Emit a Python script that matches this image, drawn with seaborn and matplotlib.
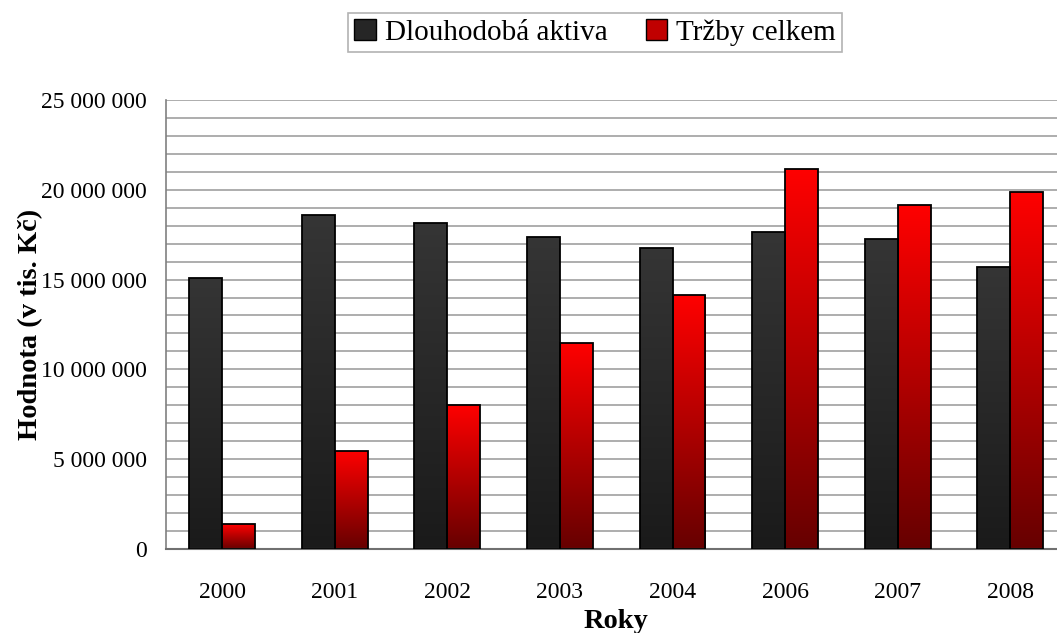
import numpy as np
import pandas as pd

import matplotlib
matplotlib.use('Agg')

from matplotlib import pyplot as plt
from matplotlib.colors import LinearSegmentedColormap
from matplotlib.patches import Patch
from matplotlib.ticker import MultipleLocator, FuncFormatter
import seaborn as sns

# data
years = ['2000', '2001', '2002', '2003', '2004', '2006', '2007', '2008']
dlouhodoba_aktiva = [15090000, 18600000, 18150000, 17370000, 16760000, 17650000, 17260000, 15700000]
trzby_celkem = [1390000, 5460000, 8020000, 11470000, 14140000, 21160000, 19150000, 19880000]
series_names = ['Dlouhodobá aktiva', 'Tržby celkem']

df = pd.DataFrame({
    'Rok': years * 2,
    'Hodnota': dlouhodoba_aktiva + trzby_celkem,
    'Serie': [series_names[0]] * len(years) + [series_names[1]] * len(years),
})

sns.set_style('white')
plt.rcParams['font.family'] = ['Liberation Serif', 'DejaVu Serif']
plt.rcParams['text.color'] = 'black'
plt.rcParams['xtick.labelcolor'] = 'black'
plt.rcParams['ytick.labelcolor'] = 'black'
plt.rcParams['axes.labelcolor'] = 'black'

fig = plt.figure(figsize=(10.57, 6.33), dpi=100)
ax = fig.add_axes([0.157, 0.1327, 0.852, 0.7094])

sns.barplot(data=df, x='Rok', y='Hodnota', hue='Serie', hue_order=series_names,
            width=0.585, gap=0, palette=['#2a2a2a', '#cc0000'], legend=False,
            edgecolor='black', linewidth=1.3, ax=ax, zorder=3)

# vertical gradient fill, each bar gets its own
cmaps = {
    0: LinearSegmentedColormap.from_list('dark', ['#1a1a1a', '#353535']),
    1: LinearSegmentedColormap.from_list('red', ['#660000', '#ff0000']),
}
grad = np.linspace(0, 1, 256).reshape(-1, 1)
n = len(years)
for i, patch in enumerate(list(ax.patches)):
    series = i // n
    x0, y0 = patch.get_x(), patch.get_y()
    w, h = patch.get_width(), patch.get_height()
    img = ax.imshow(grad, extent=[x0, x0 + w, y0, y0 + h], origin='lower',
                    aspect='auto', cmap=cmaps[series], zorder=2.5)
    img.set_clip_path(patch)
    patch.set_facecolor('none')

ax.set_xlim(-0.5, len(years) - 0.5)
ax.set_ylim(0, 25000000)

ax.yaxis.set_major_locator(MultipleLocator(5000000))
ax.yaxis.set_minor_locator(MultipleLocator(1000000))
ax.yaxis.set_major_formatter(FuncFormatter(lambda v, p: '{:,}'.format(int(v)).replace(',', ' ')))
ax.grid(True, axis='y', which='both', color='#a0a0a0', linewidth=1.2, zorder=0)
ax.set_axisbelow(True)

# category separators on x axis
ax.set_xticks(np.arange(len(years)))
ax.set_xticklabels(years)
ax.set_xticks(np.arange(-0.5, len(years)), minor=True)
ax.tick_params(axis='x', which='major', length=0, pad=24, labelsize=17)
ax.tick_params(axis='x', which='minor', length=8, color='#a0a0a0', width=1.2)
ax.tick_params(axis='y', which='major', length=8, color='#808080', width=1.2, labelsize=17, pad=6)
ax.tick_params(axis='y', which='minor', length=0)

for side in ['top', 'right']:
    ax.spines[side].set_visible(False)
ax.spines['left'].set_color('#808080')
ax.spines['left'].set_linewidth(1.2)
ax.spines['bottom'].set_color('#707070')
ax.spines['bottom'].set_linewidth(1.5)

ax.set_xlabel('Roky', fontsize=20.5, fontweight='bold', labelpad=4)
ax.set_ylabel('Hodnota (v tis. Kč)', fontsize=20.5, fontweight='bold', labelpad=-2)

handles = [Patch(facecolor='#262626', edgecolor='black', linewidth=1.0),
           Patch(facecolor='#c00000', edgecolor='black', linewidth=1.0)]
leg = fig.legend(handles, series_names, loc='upper center', bbox_to_anchor=(0.563, 0.979),
                 ncol=2, fontsize=21, frameon=True, fancybox=False, edgecolor='#a0a0a0',
                 handlelength=0.75, handleheight=0.75, handletextpad=0.3, columnspacing=1.3,
                 borderpad=0.2, borderaxespad=0)
leg.get_frame().set_linewidth(1.2)

plt.savefig('out.png', dpi=100)
plt.close(fig)
